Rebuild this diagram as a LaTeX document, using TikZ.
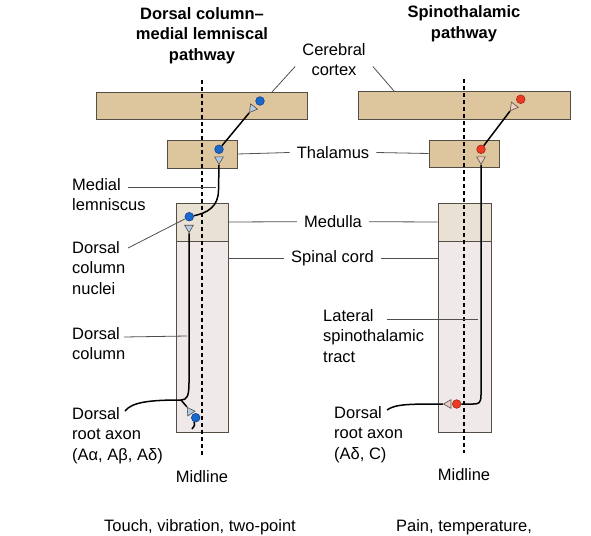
\documentclass[tikz,border=0pt]{standalone}
\usepackage{fontspec}
\setmainfont{Liberation Sans}
\usetikzlibrary{shapes.geometric,fit}
\definecolor{brainTan}{RGB}{221,197,158}
\definecolor{medFill}{RGB}{234,225,213}
\definecolor{cordFill}{RGB}{239,233,233}
\definecolor{boxLine}{RGB}{85,78,70}
\definecolor{blueDot}{RGB}{25,105,205}
\definecolor{blueEdge}{RGB}{15,60,140}
\definecolor{redDot}{RGB}{235,60,35}
\definecolor{redEdge}{RGB}{165,35,20}
\definecolor{blueTerm}{RGB}{180,205,230}
\definecolor{redTerm}{RGB}{240,205,195}
\definecolor{leadGray}{RGB}{80,80,80}
\begin{document}
\begin{tikzpicture}[x=1pt,y=-1pt,every node/.style={font=\fontsize{16.5}{20.5}\selectfont,text=black},
	box/.style={draw=boxLine,line width=.8pt,inner sep=0pt},
	bdot/.style={circle,draw=blueEdge,fill=blueDot,line width=.6pt,minimum size=8.6pt,inner sep=0pt},
	rdot/.style={circle,draw=redEdge,fill=redDot,line width=.6pt,minimum size=8.6pt,inner sep=0pt},
	bterm/.style={regular polygon,regular polygon sides=3,draw=boxLine,fill=blueTerm,line width=.6pt,minimum size=10pt,inner sep=0pt},
	rterm/.style={regular polygon,regular polygon sides=3,draw=boxLine,fill=redTerm,line width=.6pt,minimum size=10pt,inner sep=0pt},
	axon/.style={line width=1.5pt},
	leader/.style={draw=leadGray,line width=.8pt},
	midline/.style={line width=1.2pt,dash pattern=on 4pt off 3pt},
	lbl/.style={inner xsep=7pt,inner ysep=0pt},
	side/.style={align=left,anchor=north west,inner sep=0pt},
	title/.style={font=\fontsize{16.5}{20.5}\selectfont\bfseries,align=center,inner sep=0pt}]
	\useasboundingbox(0,0)rectangle(591,535);
	%boxes
	\node[box,fill=brainTan,fit={(96,92)(307,119)}](ctxL){};
	\node[box,fill=brainTan,fit={(167,140)(237,168)}](thL){};
	\node[box,fill=medFill,fit={(176,203)(228,241)}](medL){};
	\node[box,fill=cordFill,fit={(176,241)(228,432)}](spL){};
	\node[box,fill=brainTan,fit={(358,91)(570,119)}](ctxR){};
	\node[box,fill=brainTan,fit={(429,140)(499,167)}](thR){};
	\node[box,fill=medFill,fit={(438,203)(491,241)}](medR){};
	\node[box,fill=cordFill,fit={(438,241)(491,432)}](spR){};
	\coordinate(mlA)at(202,80);
	\coordinate(mlB)at(202,455);
	\coordinate(mrA)at(464,79);
	\coordinate(mrB)at(464,453);
	\draw[midline](mlA)--(mlB);
	\draw[midline](mrA)--(mrB);
	%neurons, left
	\node[bdot](dCxL)at(260,101){};
	\node[bterm,shape border rotate=143](tCxL)at(252.5,108.5){};
	\node[bdot](dThL)at(219,149.3){};
	\node[bterm,shape border rotate=180](tThL)at(219,159.3){};
	\node[bdot](dMedL)at(189.3,216.7){};
	\node[bterm,shape border rotate=180](tMedL)at(189,227.7){};
	\node[bterm,shape border rotate=34](tBotL)at(190,411.5){};
	\node[bdot](dBotL)at(195.7,417.7){};
	%neurons, right
	\node[rdot](dCxR)at(520.7,99.3){};
	\node[rterm,shape border rotate=143](tCxR)at(513.3,106.7){};
	\node[rdot](dThR)at(481,149.3){};
	\node[rterm,shape border rotate=180](tThR)at(481,159.3){};
	\node[rdot](dBotR)at(456.7,404){};
	\node[rterm,shape border rotate=90](tBotR)at(448.5,404){};
	\coordinate(brL)at(181,400);
	\coordinate(drL)at(125,411);
	\coordinate(drR)at(387,410);
	\draw[axon](dThL)--(tCxL.corner 1);
	\draw[axon](tThL.corner 1)--(218.5,190)..controls(218.5,207)and(207,213)..(dMedL);
	\draw[axon](tMedL.corner 1)--(189,383)..controls(189,396)and(187,400)..(brL);
	\draw[axon](drL)..controls(132,402)and(150,400)..(brL)--(tBotL.corner 1);
	\draw[axon](dBotL.250)..controls(195,425)..(192,429);
	\draw[axon](dThR)--(tCxR.corner 1);
	\draw[axon](tThR.corner 1)--(481,395)..controls(481,403)and(479,404)..(473,404)--(dBotR);
	\draw[axon](drR)..controls(395,404)and(410,404)..(tBotR.corner 1);
	%titles
	\node[title](ttlL)at(202,35.3){Dorsal column–\\medial lemniscal\\pathway};
	\node[title](ttlR)at(464,23.7){Spinothalamic\\pathway};
	%middle labels
	\node[lbl,anchor=north,align=center](ccT)at(334,43){Cerebral\\cortex};
	\node[lbl](thT)at(333,152.5){Thalamus};
	\node[lbl](medT)at(333,221.7){Medulla};
	\node[lbl](spT)at(332.5,258.5){Spinal cord};
	\coordinate(ccL)at(272,92);
	\coordinate(ccR)at(394,91);
	\draw[leader]([yshift=-7pt]ccT.west)--(ccL);
	\draw[leader]([yshift=-7pt]ccT.east)--(ccR);
	\draw[leader](thL.east)--(thT.west);
	\draw[leader](thT.east)--(thR.west);
	\draw[leader](medL.east)--(medT.west);
	\draw[leader](medT.east)--(medR.west);
	\draw[leader](spT.west-|spL.east)--(spT.west);
	\draw[leader](spT.east)--(spT.east-|spR.west);
	%side labels
	\node[side](mlT)at(72,178){Medial\\lemniscus};
	\node[side](dcnT)at(72,241){Dorsal\\column\\nuclei};
	\node[side](dcT)at(72,327){Dorsal\\column};
	\node[side](drT)at(72,407){Dorsal\\root axon\\(Aα, Aβ, Aδ)};
	\node[side](lstT)at(323,309){Lateral\\spinothalamic\\tract};
	\node[side](drRT)at(334,406){Dorsal\\root axon\\(Aδ, C)};
	\coordinate(mlS)at(128,187);
	\coordinate(mlE)at(216,187);
	\coordinate(dcnS)at(128,248);
	\coordinate(dcS)at(124,337);
	\coordinate(dcE)at(187,336);
	\coordinate(lstS)at(387,319);
	\coordinate(lstE)at(478,319);
	\draw[leader](mlS)--(mlE);
	\draw[leader](dcnS)--(dMedL);
	\draw[leader](dcS)--(dcE);
	\draw[leader](lstS)--(lstE);
	%bottom
	\node[anchor=north,inner sep=0pt](mdL)at(202,470){Midline};
	\node[anchor=north,inner sep=0pt](mdR)at(464,468.3){Midline};
	\node[anchor=north,inner sep=0pt](capL)at(200,519){Touch, vibration, two-point};
	\node[anchor=north,inner sep=0pt](capR)at(464,519){Pain, temperature,};
\end{tikzpicture}
\end{document}
